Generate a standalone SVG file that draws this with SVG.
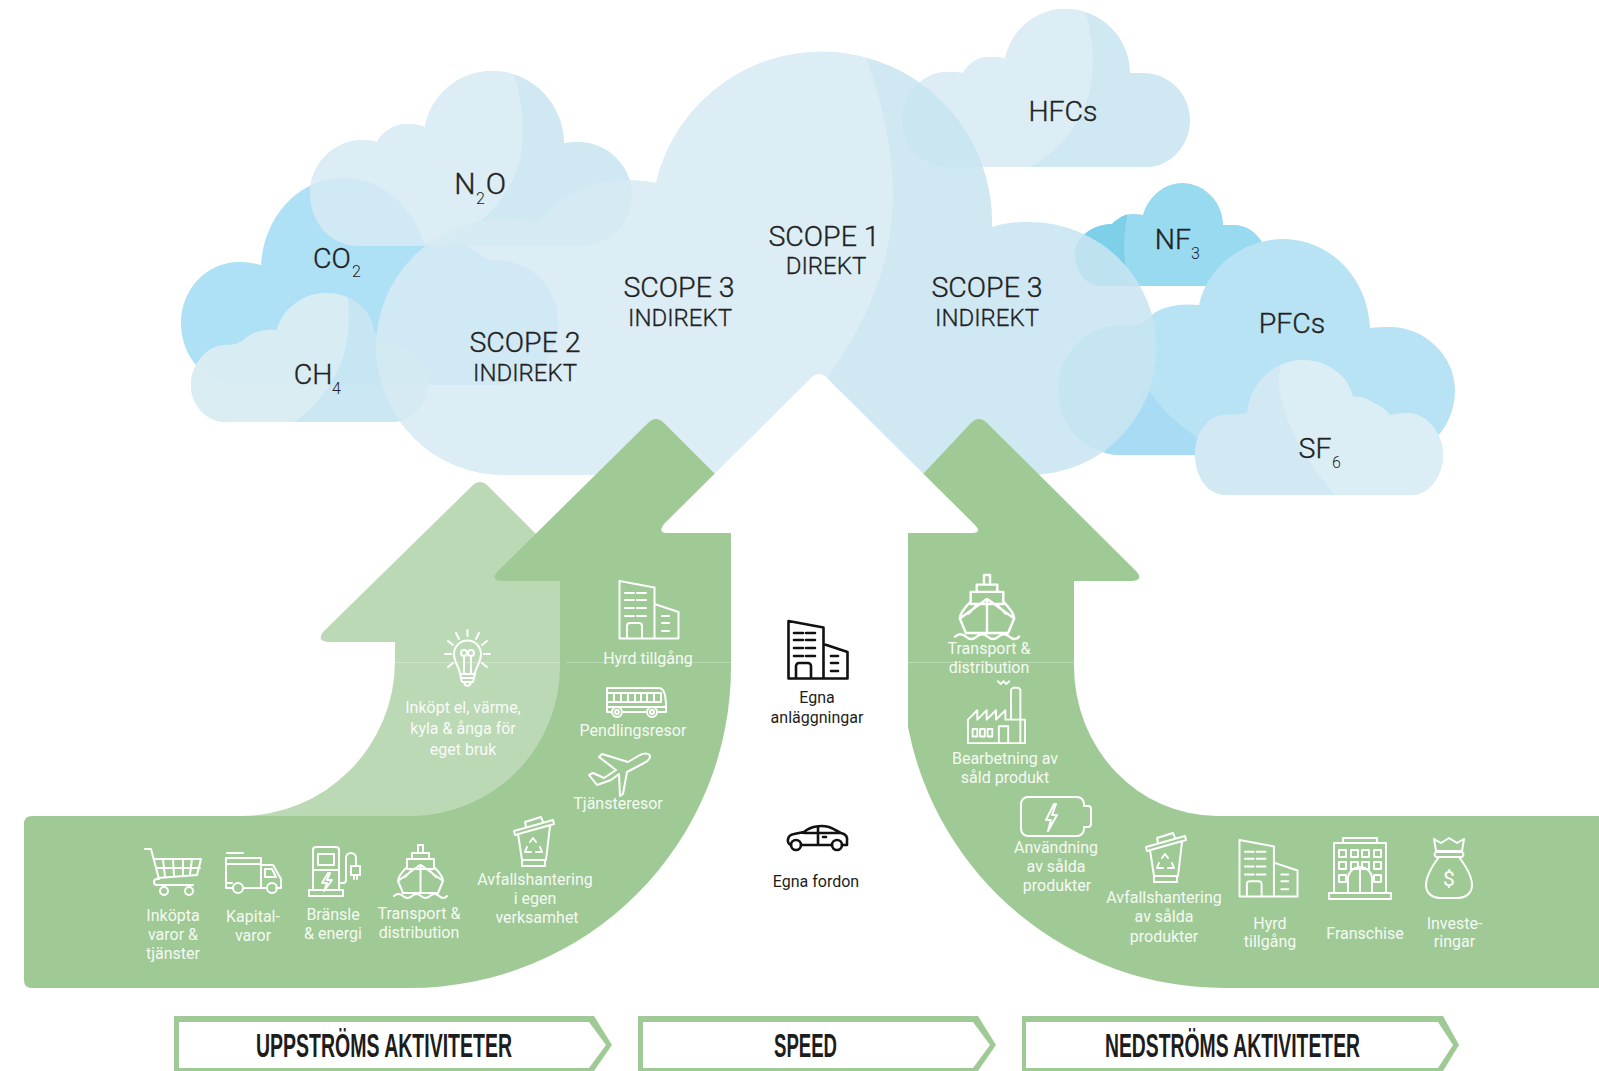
<svg xmlns="http://www.w3.org/2000/svg" width="1599" height="1071" viewBox="0 0 1599 1071">
<style>
text{font-family:Roboto,"Liberation Sans",sans-serif}
.dk{fill:#c8e5f1}.lt{fill:#d7ebf4}
.cl{opacity:.87}
.big{font-size:28.500px;fill:#222;text-anchor:middle;font-weight:300;stroke:#222;stroke-width:.35}
.gas{font-size:30px}
.mid{font-size:24px;fill:#222;text-anchor:middle;font-weight:300;stroke:#222;stroke-width:.3}
.sub{font-size:16px;fill:#222;font-weight:300}
.w{font-size:16px;fill:#fff;text-anchor:middle;font-weight:400;opacity:.9}
.b{font-size:16px;fill:#1d1d1b;text-anchor:middle}
.bar{font-family:"Liberation Sans",sans-serif;font-size:33px;font-weight:700;fill:#1d1d1b;text-anchor:middle}
.iw{fill:none;stroke:#fff;stroke-width:2;stroke-linejoin:round;stroke-linecap:round}
.ib{fill:none;stroke:#111;stroke-width:2.6;stroke-linejoin:round;stroke-linecap:round}
.g{fill:#9fca95}.bg{fill:#bcd9b6}
.o{fill:#9fca95}.i{fill:#fff}
</style>
<defs>
<path id="p-co2" d="M240 385C205 385 181 357 181 323C181 289 207 262 239 262C246 262 254 263 261 265C264 215 300 178 343 178C382 178 412 205 425 245C436 238 452 236 471 248C478 252 484 258 491 260C528 258 558 285 558 321C558 357 535 385 500 385Z"/>
<path id="p-n2o" d="M359 246C330 246 310 222 310 193C310 163 335 140 363 140C368 140 373 141 377 142C383 131 395 124 407 124C413 124 419 125 425 127C430 96 458 71 492 71C532 71 564 104 564 143C568 142 574 142 578 142C608 142 632 166 632 195C632 224 608 246 580 246Z"/>
<path id="p-hfc" d="M950 167C922 167 902 146 902 120C902 93 924 72 947 72C952 72 958 72 963 73C969 63 978 57 989 57C995 57 1000 57 1005 59C1011 30 1036 9 1065 9C1102 9 1130 38 1130 73C1134 73 1138 73 1143 73C1169 73 1190 94 1190 120C1190 146 1170 167 1147 167Z"/>
<path id="p-nf3" d="M1101 286C1086 286 1075 271 1075 254C1075 238 1092 224 1112 224C1118 218 1125 214 1132 214C1136 214 1140 214 1143 215C1148 197 1164 183 1182 183C1204 183 1223 202 1223 225C1226 225 1230 225 1234 225C1246 225 1256 232 1262 242C1266 250 1266 286 1240 286Z"/>
<path id="p-pfc" d="M1121 455C1086 455 1058 426 1058 390C1058 353 1088 325 1121 325C1130 325 1142 327 1151 316C1160 307 1178 303 1199 305C1207 267 1243 239 1283 239C1330 239 1368 278 1370 328C1376 327 1383 327 1390 327C1425 327 1455 356 1455 390C1455 425 1430 455 1395 455Z"/>
<path id="p-sf6" d="M1225 495C1208 495 1195 477 1195 455C1195 433 1208 415 1225 415C1232 415 1240 414 1247 413C1250 382 1275 360 1303 360C1327 360 1349 376 1353 397C1359 396 1366 398 1372 402C1379 405 1385 409 1390 415C1396 414 1401 413 1407 413C1427 413 1443 433 1443 455C1443 477 1428 495 1412 495Z"/>
<path id="p-ch4" d="M226 422C206 422 191 405 191 385C191 364 207 345 226 345C232 345 240 344 247 337C255 331 266 329 277 330C282 309 303 293 326 293C352 293 372 310 374 330C377 335 378 342 379 343C407 343 428 361 428 383C428 405 411 422 394 422Z"/>
<path id="p-big" d="M504 475A128 128 0 0 1 504 219C516 218 528 219 537 222C560 196 590 180 619 180C632 180 645 181 656 183A170.300 170.300 0 0 1 992 227C1004 223 1017 222 1030 222A126.500 126.500 0 0 1 1030 475Z"/>
<clipPath id="c-n2o"><use href="#p-n2o"/></clipPath>
<clipPath id="c-hfc"><use href="#p-hfc"/></clipPath>
<clipPath id="c-nf3"><use href="#p-nf3"/></clipPath>
<clipPath id="c-sf6"><use href="#p-sf6"/></clipPath>
<clipPath id="c-ch4"><use href="#p-ch4"/></clipPath>
<clipPath id="c-big"><use href="#p-big"/></clipPath>
<clipPath id="c-pfc"><use href="#p-pfc"/></clipPath>
<symbol id="s-building" viewBox="0 0 62 61" overflow="visible"><path d="M1.500 59.500V2l35 6.500v51zM36.500 25l24 8v26.500H36.500M9 59.500V47a3 3 0 0 1 3-3h9a3 3 0 0 1 3 3v12.500M7 14h9M19 14h9M7 21h9M19 21h9M7 29h9M19 29h9M7 37h9M19 37h9M44 37h7M44 44h7M44 52h7"/></symbol>
<symbol id="s-bulb" viewBox="0 0 45 60" overflow="visible"><path d="M22.500 0v6M11 3l3 6M34 3l-3 6M3 11l5 4M42 11l-5 4M0 24h6M39 24h6M3 37l5-4M42 37l-5-4M15 44C15 38 9 33 9 24A13.500 13.500 0 0 1 36 24C36 33 30 38 30 44ZM15 44l1 4h13l1-4M16 48l1 4h11l1-4M19 52c1 5 6 5 7 0M19 44V26M26 44V26"/><circle cx="19" cy="23" r="3"/><circle cx="26" cy="23" r="3"/></symbol>
<symbol id="s-bus" viewBox="0 0 62 32" overflow="visible"><path d="M6 26H1V2h52c3 0 5 3 6 7l1 8v9h-8M17 26h24M1 7h54v9H1M8 7v9M15 7v9M22 7v9M29 7v9M35 7v9M41 7v9M48 7v9M1 21h59"/><circle cx="11" cy="26" r="5"/><circle cx="46" cy="26" r="5"/><circle cx="11" cy="26" r="2"/><circle cx="46" cy="26" r="2"/></symbol>
<symbol id="s-plane" viewBox="0 0 61 44" overflow="visible"><path d="M61 3c-1-3-6-3-10-1L39 9 13 1 10 4 27 17 15 25 4 20 0 22 8 32 22 27 30 21 31 43 34 41 38 19 55 10C59 8 61 6 61 3Z"/></symbol>
<symbol id="s-bin" viewBox="0 0 41 52" overflow="visible"><path d="M1 17L40 6 41 10 2 21ZM13 13L12 8 28 3 30 8M5 20L9 46H33L37 12M9 46v6h23v-6M17 28l3-4 3 4M14 33l-2 5h6M27 33l2 5h-6"/></symbol>
<symbol id="s-cart" viewBox="0 0 56 48" overflow="visible"><path d="M0 1h6l8 30h-2a3 3 0 0 0 0 6h36M9 11h47L52 27 13 30M18 11l2 18M28 11l1 17M38 11v16M47 11l-2 15M11 20h44"/><circle cx="19" cy="43" r="4"/><circle cx="44" cy="43" r="4"/></symbol>
<symbol id="s-truck" viewBox="0 0 57 41" overflow="visible"><path d="M8 35H1V5h35v30H19M1 11h35M2 0h16M36 12h12l8 14v9h-5M40 16h7l4 8H40ZM1 30h6M36 35h5"/><circle cx="13" cy="35" r="5"/><circle cx="47" cy="35" r="5"/></symbol>
<symbol id="s-charger" viewBox="0 0 50 51" overflow="visible"><path d="M4 44V4a3 3 0 0 1 3-3h20a3 3 0 0 1 3 3v40M0 44h34v6H0ZM9 8h16v11H9ZM4 24h26M19 27l-6 10h5l-3 8 8-11h-5l3-7ZM30 37h4a3 3 0 0 0 3-3V12a5 5 0 0 1 10 0v8M42 20h9v9h-9ZM45 29v4M48 29v4"/></symbol>
<symbol id="s-ship" viewBox="0 0 53 53" overflow="visible"><path d="M24 0h5v8h-5ZM18 8h17v6H18ZM13 14h27v10H13ZM13 22C7 28 4 33 4 36L9 48H44L49 36C49 33 46 28 40 22M26.500 20v27M26 20L4 36M27 20L49 36M11 32l6-6M42 32l-6-6M0 51q4.500-4 9 0t9 0 9 0 9 0 9 0 8 0"/></symbol>
<symbol id="s-factory" viewBox="0 0 63 63" overflow="visible"><path d="M47 37V5l2-2h6l2 2V62M33 -4l3 3 3-3 3 3 3-3M1 62V37L11 27V37L21 27V37L31 27V37L41 27V37H62V62ZM34 62V44H44V62"/><rect x="6" y="47" width="5" height="8"/><rect x="14" y="47" width="5" height="8"/><rect x="22" y="47" width="5" height="8"/></symbol>
<symbol id="s-battery" viewBox="0 0 70 42" overflow="visible"><path d="M7 1h49a7 7 0 0 1 7 7v2h4a3 3 0 0 1 3 3v15a3 3 0 0 1-3 3h-4v2a7 7 0 0 1-7 7H7a7 7 0 0 1-7-7V8a7 7 0 0 1 7-7ZM33 8L25 24h5l-3 11 9-16h-5l4-11Z"/></symbol>
<symbol id="s-hotel" viewBox="0 0 62 62" overflow="visible"><path d="M14 6V1h34v5M5 56V6H57V56M0 56h62v6H0ZM19 56V42a12 12 0 0 1 24 0V56M31 30V56"/><rect x="10" y="13" width="7" height="7"/><rect x="22" y="13" width="7" height="7"/><rect x="33" y="13" width="7" height="7"/><rect x="45" y="13" width="7" height="7"/><rect x="10" y="25" width="7" height="7"/><rect x="22" y="25" width="7" height="7"/><rect x="33" y="25" width="7" height="7"/><rect x="45" y="25" width="7" height="7"/><rect x="10" y="38" width="7" height="7"/><rect x="45" y="38" width="7" height="7"/></symbol>
<symbol id="s-bag" viewBox="0 0 48 62" overflow="visible"><path d="M11 14L9 2l7 4 8-5 8 5 7-4-2 12ZM11 15h26q3 2 0 5H11q-3-3 0-5ZM14 20C5 32 1 40 1 48C1 57 8 61 16 61H32C40 61 47 57 47 48C47 40 43 32 34 20"/></symbol>
<symbol id="s-car" viewBox="0 0 61 25" overflow="visible"><path d="M4 19C-1 17 0 9 7 8L17 6C24 0 34-1 42 1C48 3 51 6 54 7C59 8 61 11 60 16V19H55M45 19H14M17 7H53M31 1V19M36 11h3"/><circle cx="9" cy="19" r="5"/><circle cx="50" cy="19" r="5"/></symbol>
</defs>

<g id="clouds">
<g id="cloud-co2"><use href="#p-co2" fill="#aee0f6"/></g>
<g id="cloud-hfc" class="cl"><use href="#p-hfc" class="dk"/><path class="lt" clip-path="url(#c-hfc)" d="M880 0H1080C1092 25 1096 60 1090 90C1082 122 1062 150 1025 170H880Z"/></g>
<g id="cloud-nf3"><use href="#p-nf3" fill="#98daf0"/><path fill="#7dd0e8" clip-path="url(#c-nf3)" d="M1060 200H1132C1122 225 1122 262 1130 290H1060Z"/></g>
<g id="cloud-pfc"><use href="#p-pfc" fill="#b8e3f5"/><path fill="#a8dcf4" clip-path="url(#c-pfc)" d="M1147 387C1160 410 1180 425 1200 440V460H1100Z"/></g>
<g id="cloud-n2o" class="cl"><use href="#p-n2o" class="dk"/><path class="lt" clip-path="url(#c-n2o)" d="M300 60H508C522 90 526 130 520 160C510 200 480 225 445 248H300Z"/></g>
<g id="cloud-ch4" opacity=".96"><use href="#p-ch4" fill="#c9e7f3"/><path fill="#d9edf3" clip-path="url(#c-ch4)" d="M180 280H345C351 310 350 340 340 365C330 390 312 410 292 424H180Z"/></g>
<g id="cloud-big" class="cl"><use href="#p-big" class="dk"/><path class="lt" clip-path="url(#c-big)" d="M300 30H860L866 57C885 110 897 170 892 215C888 275 862 330 825 381L700 500H300Z"/></g>
<g id="cloud-sf6"><use href="#p-sf6" fill="#d2e9f4"/><path fill="#dceef5" clip-path="url(#c-sf6)" d="M1283 355H1460V500H1340C1312 470 1285 430 1279 385C1278 375 1280 368 1283 355Z"/></g>
</g>

<g id="cloud-labels">
<text class="big" x="824" y="246">SCOPE 1</text><text class="mid" x="826" y="274">DIREKT</text>
<text class="big" x="679" y="297">SCOPE 3</text><text class="mid" x="680" y="326">INDIREKT</text>
<text class="big" x="525" y="352">SCOPE 2</text><text class="mid" x="525" y="381">INDIREKT</text>
<text class="big" x="987" y="297">SCOPE 3</text><text class="mid" x="987" y="326">INDIREKT</text>
<text class="big gas" x="465" y="194">N</text><text class="sub" x="476" y="204">2</text><text class="big gas" x="496" y="194">O</text>
<text class="big" x="332" y="268">CO</text><text class="sub" x="352" y="277">2</text>
<text class="big" x="313" y="384">CH</text><text class="sub" x="332" y="394">4</text>
<text class="big" x="1063" y="121">HFCs</text>
<text class="big" x="1173" y="249">NF</text><text class="sub" x="1191" y="259">3</text>
<text class="big" x="1292" y="333">PFCs</text>
<text class="big" x="1315" y="458">SF</text><text class="sub" x="1332" y="468">6</text>
</g>

<g id="arrows">
<path id="arrow-light" class="bg" d="M240 816A155 155 0 0 0 395 661V642H330Q316 642 323 632L472 486Q480 478 488 486L600 598V816Z"/>
<path id="arrow-left" class="g" d="M32 816H415A150 150 0 0 0 560 667V581H503Q489 581 498 571L648 423Q656 415 664 423L731 490V667A321 321 0 0 1 410 988H32Q24 988 24 980V824Q24 816 32 816Z"/>
<path id="arrow-right" class="g" d="M1599 816H1217A143 150 0 0 1 1074 666V581H1130Q1145 581 1136 571L987 423Q979 415 971 423L908 490V727A322 322 0 0 0 1225 988H1599Z"/>
<path id="arrow-center" fill="#fff" d="M731 533H668Q657 533 664 524L811 378Q819 370 827 378L974 524Q983 533 972 533H908V540H731Z"/>
<path d="M566 662.500H731M908 662.500H1074" stroke="#b9d9b1" stroke-width="1" fill="none"/>
<path d="M395 662.500H560" stroke="#cde4c8" stroke-width="1" fill="none"/>
</g>

<g id="bars">
<g id="bar-up"><path class="o" d="M174 1016H594L612 1045 594 1071H174Z"/><path class="i" d="M179 1022H589L606 1045 589 1068H179Z"/><text class="bar" x="384" y="1057" textLength="256" lengthAdjust="spacingAndGlyphs">UPPSTRÖMS AKTIVITETER</text></g>
<g id="bar-speed"><path class="o" d="M638 1016H978L996 1045 978 1071H638Z"/><path class="i" d="M643 1022H973L990 1045 973 1068H643Z"/><text class="bar" x="805.500" y="1057" textLength="63" lengthAdjust="spacingAndGlyphs">SPEED</text></g>
<g id="bar-down"><path class="o" d="M1022 1016H1443L1459 1045 1443 1071H1022Z"/><path class="i" d="M1026 1022H1438L1453 1045 1438 1068H1026Z"/><text class="bar" x="1232.500" y="1057" textLength="255" lengthAdjust="spacingAndGlyphs">NEDSTRÖMS AKTIVITETER</text></g>
</g>

<g id="node-el"><use href="#s-bulb" class="iw" x="445" y="630" width="45" height="60"/><text class="w" x="463" y="713">Inköpt el, värme,</text><text class="w" x="463" y="734">kyla &amp; ånga för</text><text class="w" x="463" y="755">eget bruk</text></g>
<g id="node-hyrd1"><use href="#s-building" class="iw" x="618" y="579" width="62" height="61"/><text class="w" x="648" y="664">Hyrd tillgång</text></g>
<g id="node-pendling"><use href="#s-bus" class="iw" x="606" y="686" width="62" height="32"/><text class="w" x="633" y="736">Pendlingsresor</text></g>
<g id="node-tjanst"><use href="#s-plane" class="iw" x="589" y="753" width="61" height="44"/><text class="w" x="618" y="809">Tjänsteresor</text></g>
<g id="node-avfall1"><use href="#s-bin" class="iw" x="513" y="814" width="41" height="52"/><text class="w" x="535" y="885">Avfallshantering</text><text class="w" x="535" y="904">i egen</text><text class="w" x="537" y="923">verksamhet</text></g>
<g id="node-inkop"><use href="#s-cart" class="iw" x="145" y="848" width="56" height="48"/><text class="w" x="173" y="921">Inköpta</text><text class="w" x="173" y="940">varor &amp;</text><text class="w" x="173" y="959">tjänster</text></g>
<g id="node-kapital"><use href="#s-truck" class="iw" x="225" y="853" width="57" height="41"/><text class="w" x="253" y="922">Kapital-</text><text class="w" x="253" y="941">varor</text></g>
<g id="node-bransle"><use href="#s-charger" class="iw" x="309" y="846" width="50" height="51"/><text class="w" x="333" y="920">Bränsle</text><text class="w" x="333" y="939">&amp; energi</text></g>
<g id="node-transport1"><use href="#s-ship" class="iw" x="394" y="845" width="53" height="53"/><text class="w" x="419" y="919">Transport &amp;</text><text class="w" x="419" y="938">distribution</text></g>
<g id="node-anlagg"><use href="#s-building" class="ib" x="787" y="619" width="62" height="61"/><text class="b" x="817" y="703">Egna</text><text class="b" x="817" y="723">anläggningar</text></g>
<g id="node-fordon"><use href="#s-car" class="ib" x="787" y="826" width="61" height="25"/><text class="b" x="816" y="887">Egna fordon</text></g>
<g id="node-transport2"><use href="#s-ship" class="iw" x="955" y="575" width="64" height="64"/><text class="w" x="989" y="654">Transport &amp;</text><text class="w" x="989" y="673">distribution</text></g>
<g id="node-bearb"><use href="#s-factory" class="iw" x="965" y="685" width="63" height="59"/><text class="w" x="1005" y="764">Bearbetning av</text><text class="w" x="1005" y="783">såld produkt</text></g>
<g id="node-anv"><use href="#s-battery" class="iw" x="1021" y="796" width="70" height="42"/><text class="w" x="1056" y="853">Användning</text><text class="w" x="1056" y="872">av sålda</text><text class="w" x="1057" y="891">produkter</text></g>
<g id="node-avfall2"><use href="#s-bin" class="iw" x="1144" y="830" width="43" height="52"/><text class="w" x="1164" y="903">Avfallshantering</text><text class="w" x="1164" y="922">av sålda</text><text class="w" x="1164" y="942">produkter</text></g>
<g id="node-hyrd2"><use href="#s-building" class="iw" x="1238" y="838" width="61" height="60"/><text class="w" x="1270" y="929">Hyrd</text><text class="w" x="1270" y="947">tillgång</text></g>
<g id="node-fran"><use href="#s-hotel" class="iw" x="1329" y="837" width="62" height="62"/><text class="w" x="1365" y="939">Franschise</text></g>
<g id="node-inv"><use href="#s-bag" class="iw" x="1425" y="837" width="48" height="62"/><text x="1449" y="886" font-size="21" fill="#fff" text-anchor="middle">$</text><text class="w" x="1454.500" y="929">Investe-</text><text class="w" x="1454.500" y="947">ringar</text></g>
</svg>
